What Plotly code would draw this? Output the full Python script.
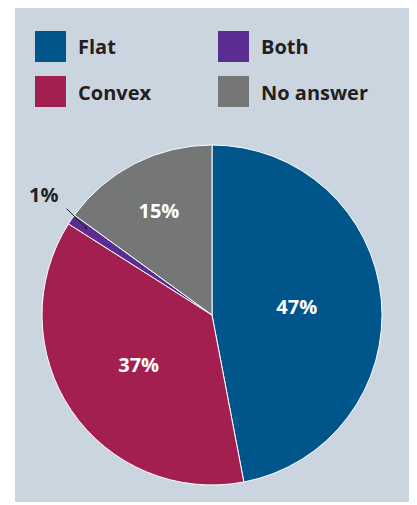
import plotly.graph_objects as go

categories = ["Flat", "Convex", "Both", "No answer"]
values = [47, 37, 1, 15]
colors = ["#00558b", "#a31f4f", "#5c2d91", "#747776"]
slice_text = ["47%", "37%", "", "15%"]
small_label = "1%"

OFF = 8  # page body margin
W, H = 417 - OFF, 505 - OFF
FONT = "Open Sans"
DARK = "#231f20"

def px(x):
    return (x - OFF) / W

def py(y):
    return 1 - (y - OFF) / H

fig = go.Figure()
fig.add_trace(go.Pie(
    labels=categories, values=values, sort=False, direction="clockwise", rotation=0,
    marker=dict(colors=colors, line=dict(color="white", width=1)),
    text=slice_text, textinfo="text", textposition="inside",
    insidetextorientation="horizontal",
    textfont=dict(family=FONT, size=20, color="white", weight="bold"),
    domain=dict(x=[px(42), px(382)], y=[py(485), py(145)]),
    showlegend=False, hoverinfo="label+percent",
))

shapes = [dict(type="rect", xref="paper", yref="paper", x0=px(15), x1=px(412),
               y0=py(502), y1=py(7), fillcolor="#cbd5df", line=dict(width=0), layer="below")]
annotations = []
legend_pos = [(35, 31), (35, 76), (218, 31), (218, 76)]
for i, (lx, ly) in enumerate(legend_pos):
    shapes.append(dict(type="rect", xref="paper", yref="paper", x0=px(lx), x1=px(lx + 31),
                       y0=py(ly + 31), y1=py(ly), fillcolor=colors[i], line=dict(width=0)))
    annotations.append(dict(xref="paper", yref="paper", x=px(lx + 41), y=py(ly + 16),
                            xanchor="left", yanchor="middle", showarrow=False,
                            text=categories[i],
                            font=dict(family=FONT, size=20, color=DARK, weight="bold")))

annotations.append(dict(xref="paper", yref="paper", x=px(86), y=py(228), axref="pixel", ayref="pixel",
                        ax=-21, ay=-21, text="", showarrow=True, arrowhead=6, arrowsize=0.6,
                        arrowwidth=1, arrowcolor=DARK, standoff=0, startstandoff=0))
annotations.append(dict(xref="paper", yref="paper", x=px(43), y=py(194), xanchor="center",
                        yanchor="middle", showarrow=False, text=small_label,
                        font=dict(family=FONT, size=20, color=DARK, weight="bold")))

fig.update_layout(width=W, height=H, margin=dict(l=0, r=0, t=0, b=0),
                  paper_bgcolor="white", plot_bgcolor="white",
                  shapes=shapes, annotations=annotations)
fig.write_html("out.html")
